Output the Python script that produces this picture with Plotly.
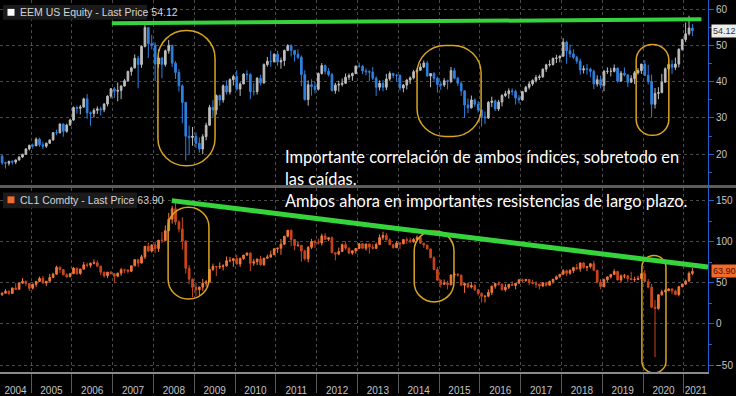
import plotly.graph_objects as go
import pandas as pd

# ---------------- DATA (monthly, Apr 2004 - Mar 2021) ----------------
months = pd.period_range("2004-04", "2021-03", freq="M")

eem_first_open = 19.48
eem_close = [
    17.60, 17.46, 17.96, 17.78, 18.36, 19.18, 19.93, 21.43, 22.42,
    22.30, 24.13, 22.56, 22.20, 23.00, 23.87, 25.93, 25.90, 28.31, 26.29, 28.02, 29.42,
    32.88, 32.68, 33.00, 35.28, 31.44, 31.26, 32.12, 32.50, 32.28, 33.84, 36.04, 38.06,
    37.40, 37.62, 38.83, 40.31, 42.87, 43.86, 46.50, 44.79, 49.82, 55.00, 50.58, 50.17,
    44.93, 46.60, 44.82, 48.60, 50.13, 45.17, 42.60, 38.90, 34.30, 24.94, 24.60, 24.97,
    23.00, 21.40, 24.81, 28.00, 32.90, 32.23, 36.20, 35.00, 38.90, 37.20, 40.60, 41.50,
    38.00, 39.40, 42.12, 42.00, 37.30, 37.30, 41.00, 39.70, 44.76, 45.70, 45.60, 47.64,
    45.50, 45.90, 48.70, 50.00, 48.70, 47.60, 46.80, 42.00, 35.10, 39.20, 38.70, 37.94,
    42.30, 44.50, 42.94, 42.00, 37.60, 39.10, 39.30, 39.60, 41.30, 41.70, 42.30, 44.35,
    44.30, 43.00, 42.80, 42.70, 41.00, 38.50, 39.60, 38.50, 40.80, 42.30, 41.80, 41.80,
    38.30, 39.10, 40.50, 41.10, 42.80, 43.20, 44.10, 45.20, 41.60, 42.30, 41.00, 39.30,
    39.10, 40.30, 40.10, 43.10, 41.00, 39.60, 37.50, 33.60, 32.80, 35.00, 33.80, 32.20,
    30.30, 30.00, 34.30, 34.70, 32.50, 34.40, 36.20, 36.70, 37.50, 37.30, 35.50, 35.00,
    37.30, 38.50, 39.40, 40.40, 41.20, 41.40, 43.50, 44.70, 44.80, 46.50, 46.60, 47.10,
    51.00, 48.60, 47.70, 46.80, 45.70, 43.30, 43.60, 43.50, 42.90, 39.40, 40.60, 39.06,
    42.90, 42.90, 42.90, 43.80, 40.20, 42.40, 41.90, 39.90, 40.90, 42.50, 43.10, 44.90,
    41.80, 40.10, 33.80, 36.80, 37.00, 39.90, 43.60, 44.80, 44.00, 44.90, 49.00, 51.70,
    53.30, 54.90, 54.12,
]
eem_high = [
    19.80, 17.90, 18.20, 18.30, 18.50, 19.40, 20.10, 21.60, 22.60,
    22.90, 24.60, 24.50, 23.40, 23.20, 24.10, 26.00, 26.80, 28.50, 28.50, 28.40, 29.80,
    33.20, 33.40, 33.60, 35.60, 36.60, 31.80, 32.70, 33.20, 33.10, 34.10, 36.30, 38.30,
    38.60, 39.80, 39.10, 40.80, 43.10, 44.20, 47.60, 47.20, 50.10, 55.83, 55.10, 53.00,
    50.90, 49.00, 46.80, 48.90, 51.60, 50.20, 45.70, 43.50, 39.30, 34.40, 27.90, 27.50,
    26.00, 24.60, 25.50, 28.70, 33.60, 35.00, 36.50, 36.50, 39.30, 40.40, 41.00, 42.00,
    43.20, 39.90, 42.40, 43.20, 42.40, 39.60, 41.30, 42.00, 45.10, 46.90, 48.60, 47.90,
    48.60, 46.70, 48.90, 50.40, 50.40, 48.70, 49.00, 47.30, 43.20, 40.40, 40.70, 40.00,
    42.60, 45.20, 44.80, 43.80, 42.50, 39.70, 40.30, 40.90, 42.30, 42.30, 42.60, 44.50,
    45.30, 44.70, 43.70, 43.20, 44.10, 41.50, 40.40, 40.50, 42.20, 42.90, 42.50, 42.20,
    42.00, 39.40, 40.70, 41.50, 43.30, 43.80, 45.10, 45.90, 45.80, 42.40, 42.70, 41.40,
    40.00, 41.00, 40.60, 44.10, 43.80, 41.40, 40.20, 37.60, 35.40, 36.20, 35.40, 34.70,
    32.20, 31.80, 34.70, 35.90, 35.10, 35.00, 36.60, 37.50, 38.20, 38.20, 37.80, 36.30,
    37.50, 38.90, 40.00, 40.70, 41.90, 42.00, 43.70, 45.00, 46.00, 46.70, 47.50, 47.30,
    52.08, 51.40, 50.30, 49.00, 47.20, 46.40, 44.50, 44.90, 43.90, 43.40, 41.80, 41.70,
    43.30, 44.00, 43.90, 44.80, 43.90, 43.00, 44.00, 42.20, 41.80, 43.00, 43.80, 45.00,
    46.00, 44.70, 42.00, 38.30, 38.50, 42.20, 44.00, 45.50, 46.00, 46.70, 49.30, 51.90,
    56.40, 58.30, 56.00,
]
eem_low = [
    17.00, 16.00, 16.80, 17.10, 17.20, 18.20, 18.90, 19.80, 21.00,
    21.50, 22.20, 22.00, 21.40, 21.70, 22.80, 23.80, 25.30, 25.70, 24.80, 25.90, 27.90,
    29.20, 31.20, 31.00, 32.90, 29.80, 27.80, 30.10, 31.10, 30.70, 31.60, 33.20, 35.40,
    35.50, 34.60, 35.20, 38.70, 40.10, 41.70, 43.70, 38.20, 43.90, 49.50, 46.60, 49.00,
    40.20, 43.90, 41.00, 44.20, 47.80, 44.10, 40.80, 37.30, 28.50, 18.22, 19.80, 22.30,
    21.70, 20.40, 19.94, 23.80, 27.80, 30.10, 30.90, 33.40, 34.20, 36.50, 36.50, 39.00,
    37.60, 36.10, 39.40, 40.40, 35.20, 36.20, 36.50, 39.00, 39.50, 44.20, 44.20, 45.30,
    44.40, 43.60, 44.40, 48.50, 47.00, 45.60, 46.30, 38.80, 34.80, 33.40, 36.20, 36.80,
    37.60, 42.00, 42.10, 41.50, 37.30, 36.70, 37.30, 38.70, 39.40, 40.50, 40.30, 42.10,
    43.90, 42.20, 41.80, 40.20, 40.50, 36.10, 37.60, 37.40, 37.70, 40.30, 41.00, 40.10,
    37.60, 37.10, 37.90, 39.40, 40.70, 42.40, 43.10, 43.80, 41.50, 38.50, 40.30, 37.00,
    37.80, 38.60, 37.90, 39.60, 40.70, 38.80, 36.10, 30.00, 31.30, 32.60, 33.10, 31.50,
    27.60, 28.30, 29.70, 33.00, 31.90, 31.90, 33.20, 35.80, 35.40, 36.30, 33.70, 34.00,
    34.80, 37.10, 37.90, 38.90, 39.80, 40.50, 41.10, 42.70, 44.20, 44.50, 45.20, 45.40,
    46.90, 45.00, 46.70, 46.30, 45.00, 42.00, 42.30, 42.00, 41.30, 38.00, 38.70, 38.20,
    37.40, 42.20, 41.50, 42.60, 39.80, 40.00, 41.50, 38.60, 39.70, 39.40, 42.00, 42.20,
    41.60, 39.30, 30.10, 32.60, 35.20, 37.50, 39.80, 42.60, 42.20, 43.30, 44.00, 48.60,
    51.00, 52.80, 52.70,
]

cl_first_open = 35.76
cl_close = [
    37.38, 39.88, 37.05, 43.80, 42.12, 49.64, 51.76, 49.13, 43.45,
    48.20, 51.75, 55.40, 49.72, 51.97, 56.50, 60.57, 68.94, 66.24, 59.76, 57.32, 61.04,
    67.92, 61.41, 66.63, 71.88, 71.29, 73.93, 74.40, 70.26, 62.91, 58.73, 62.99, 61.05,
    58.14, 61.79, 65.87, 65.71, 64.01, 70.68, 78.21, 74.04, 81.66, 94.53, 88.71, 95.98,
    91.75, 101.84, 101.58, 113.46, 127.35, 140.00, 124.08, 115.46, 100.64, 67.81, 54.43, 44.60,
    41.68, 44.76, 49.66, 51.12, 66.31, 69.89, 69.45, 69.96, 70.61, 77.00, 77.28, 79.36,
    72.89, 79.66, 83.76, 86.15, 73.97, 75.63, 78.95, 71.92, 79.97, 81.43, 84.11, 91.38,
    92.19, 96.97, 106.72, 113.93, 102.70, 95.42, 95.70, 88.81, 79.20, 93.19, 100.36, 98.83,
    98.48, 107.07, 103.02, 104.87, 86.53, 84.96, 88.06, 96.47, 92.19, 86.24, 88.91, 91.82,
    97.49, 92.05, 97.23, 93.46, 91.97, 96.56, 105.03, 107.65, 102.33, 96.38, 92.72, 98.42,
    97.49, 102.59, 101.58, 99.74, 102.71, 105.37, 98.17, 95.96, 91.16, 80.54, 66.15, 53.27,
    48.24, 49.76, 47.60, 59.63, 60.30, 59.47, 47.12, 49.20, 45.09, 46.59, 41.65, 37.04,
    33.62, 33.75, 38.34, 45.92, 49.10, 48.33, 41.60, 44.70, 48.24, 46.86, 49.44, 53.72,
    52.81, 54.01, 50.60, 49.33, 48.32, 46.04, 50.17, 47.23, 51.67, 54.38, 57.40, 60.42,
    64.73, 61.64, 64.94, 68.57, 67.04, 74.15, 68.76, 69.80, 73.25, 65.31, 50.93, 45.41,
    53.79, 57.22, 60.14, 63.91, 53.50, 58.47, 58.58, 55.10, 54.07, 54.18, 55.17, 61.06,
    51.56, 44.76, 20.48, 18.84, 35.49, 39.27, 40.27, 42.61, 40.22, 35.79, 45.34, 48.52,
    52.20, 61.50, 63.90,
]
cl_high = [
    38.40, 42.30, 40.60, 44.00, 49.40, 50.50, 55.70, 53.00, 49.50,
    49.20, 52.10, 57.60, 58.30, 52.10, 60.90, 62.30, 70.85, 69.80, 66.80, 61.50, 61.90,
    69.20, 68.00, 67.30, 75.35, 74.60, 74.50, 78.40, 77.20, 70.70, 63.40, 63.20, 64.40,
    61.80, 62.50, 68.10, 67.10, 66.50, 70.90, 78.80, 78.70, 84.10, 94.70, 99.30, 97.00,
    100.10, 102.10, 111.80, 119.90, 135.10, 143.70, 147.27, 126.00, 130.00, 102.00, 71.50, 55.40,
    50.50, 45.80, 54.70, 53.30, 66.90, 73.40, 70.70, 75.00, 72.60, 82.00, 81.50, 80.00,
    83.95, 80.70, 83.90, 87.10, 87.00, 79.00, 79.40, 83.00, 80.00, 84.40, 89.00, 92.10,
    92.60, 103.40, 106.90, 114.10, 114.80, 103.40, 100.60, 96.00, 90.50, 94.70, 103.40, 102.40,
    103.70, 109.80, 110.50, 105.20, 106.40, 86.90, 92.90, 97.80, 100.40, 93.00, 89.50, 92.10,
    98.20, 98.20, 97.40, 97.80, 97.00, 99.00, 108.90, 112.20, 110.70, 104.00, 96.90, 100.80,
    99.40, 103.40, 105.20, 104.90, 104.50, 107.70, 105.40, 98.70, 96.20, 91.90, 82.20, 69.40,
    54.00, 54.20, 52.50, 59.90, 62.60, 61.80, 59.70, 49.30, 49.40, 50.90, 48.40, 42.50,
    38.40, 34.70, 41.90, 46.80, 49.90, 51.70, 49.00, 48.80, 48.30, 51.90, 49.90, 54.50,
    55.20, 54.90, 54.30, 53.80, 52.00, 48.90, 50.40, 50.20, 52.90, 54.80, 59.00, 60.50,
    66.66, 66.30, 66.60, 69.50, 72.90, 74.50, 75.30, 70.40, 73.80, 76.90, 65.50, 54.50,
    55.30, 57.80, 60.70, 66.60, 64.00, 60.30, 60.90, 58.80, 63.40, 57.50, 58.70, 61.90,
    65.65, 54.70, 48.70, 29.10, 35.90, 41.60, 42.50, 43.80, 43.40, 41.80, 46.30, 49.30,
    53.90, 63.80, 67.98,
]
cl_low = [
    33.90, 37.30, 35.40, 36.90, 41.40, 42.10, 49.00, 45.90, 40.20,
    42.10, 45.00, 51.30, 49.30, 46.20, 51.80, 55.70, 60.20, 62.10, 59.20, 56.20, 57.30,
    60.80, 59.50, 59.80, 66.60, 68.60, 68.40, 72.50, 69.50, 59.50, 56.50, 55.70, 60.50,
    49.90, 56.80, 58.40, 61.90, 61.40, 64.00, 70.30, 69.30, 73.70, 79.00, 87.40, 86.80,
    86.10, 87.70, 98.70, 100.60, 112.80, 122.00, 120.40, 111.30, 90.50, 61.30, 48.20, 32.40,
    33.50, 33.90, 40.20, 45.40, 50.40, 64.70, 58.30, 66.70, 65.10, 69.70, 75.00, 69.50,
    72.40, 69.50, 78.00, 82.50, 64.20, 70.80, 71.50, 70.80, 70.80, 79.80, 80.10, 84.00,
    86.50, 84.10, 96.00, 105.30, 94.60, 89.60, 94.00, 75.70, 77.10, 74.95, 91.20, 92.50,
    96.80, 95.40, 102.10, 100.70, 86.20, 77.30, 83.60, 87.80, 90.00, 85.00, 84.10, 85.50,
    91.60, 91.70, 89.30, 85.60, 90.60, 91.10, 95.90, 102.20, 101.70, 95.90, 91.80, 92.70,
    91.20, 97.00, 97.40, 98.90, 98.80, 101.80, 97.20, 92.50, 90.50, 79.80, 65.70, 52.70,
    44.20, 47.40, 42.00, 47.10, 56.50, 57.50, 46.70, 37.75, 43.20, 43.20, 40.00, 34.50,
    26.20, 26.05, 32.50, 35.20, 43.00, 46.70, 40.60, 39.20, 42.50, 46.40, 42.20, 49.30,
    50.70, 51.20, 47.00, 48.20, 43.80, 42.05, 45.40, 45.60, 46.50, 49.10, 53.90, 56.10,
    59.80, 58.10, 59.90, 62.00, 65.80, 63.60, 67.00, 64.40, 67.50, 64.80, 49.40, 42.36,
    44.40, 51.20, 55.40, 60.00, 53.00, 50.60, 55.40, 50.50, 53.00, 50.90, 54.00, 55.00,
    51.30, 43.30, 19.30, -40.32, 17.30, 34.40, 38.70, 40.20, 36.10, 34.90, 33.60, 44.50,
    47.20, 51.60, 59.30,
]

year_ticks = list(range(2005, 2022))
year_label_pos = [2004.62] + [y + 0.5 for y in range(2005, 2021)] + [2021.29]
year_labels = [str(y) for y in range(2004, 2022)]

# trend lines (data coordinates)
top_trend = dict(x0=2006.98, y0=56.2, x1=2021.43, y1=57.3)
bot_trend = dict(x0=2008.45, y0=150.0, x1=2021.59, y1=69.2)
# highlighted zones (x0, x1, y0, y1, corner radius px)
top_zones = [(2008.11, 2009.51, 16.75, 54.2, 28), (2014.46, 2016.03, 24.9, 50.08, 28),
             (2019.83, 2020.63, 25.2, 50.36, 16)]
bot_zones = [(2008.36, 2009.36, 30.4, 141.97, 20), (2014.39, 2015.365, 26.8, 113.2, 20),
             (2019.97, 2020.56, -59.6, 83.2, 12)]

# ---------------- LAYOUT CONSTANTS ----------------
W, H = 736, 396
ML, MR, MT, MB = 0, 28, 0, 19
PW, PH = W - ML - MR, H - MT - MB
X_RANGE = [2004.24, 2021.59]
TOP_DOM = [1 - 188 / PH, 1.0]
BOT_DOM = [0.0, 1 - 191 / PH]
Y1_RANGE = [11.3, 62.65]
Y2_RANGE = [-58.4, 164.76]

x = [p.year + (p.month - 0.5) / 12 for p in months]
assert len(x) == len(eem_close) == len(eem_high) == len(eem_low)
assert len(x) == len(cl_close) == len(cl_high) == len(cl_low)
eem_open = [eem_first_open] + eem_close[:-1]
cl_open = [cl_first_open] + cl_close[:-1]

fig = go.Figure()
fig.add_trace(go.Candlestick(
    x=x, open=eem_open, high=eem_high, low=eem_low, close=eem_close,
    xaxis="x", yaxis="y",
    increasing=dict(line=dict(color="#bdbdbd", width=1), fillcolor="#bdbdbd"),
    decreasing=dict(line=dict(color="#2f80e0", width=1), fillcolor="#2f80e0"),
    showlegend=False, hoverinfo="skip"))
fig.add_trace(go.Candlestick(
    x=x, open=cl_open, high=cl_high, low=cl_low, close=cl_close,
    xaxis="x2", yaxis="y2",
    increasing=dict(line=dict(color="#f2773a", width=1), fillcolor="#f2773a"),
    decreasing=dict(line=dict(color="#c9461c", width=1), fillcolor="#c9461c"),
    showlegend=False, hoverinfo="skip"))

px_per_x = PW / (X_RANGE[1] - X_RANGE[0])
px_per_y1 = (TOP_DOM[1] - TOP_DOM[0]) * PH / (Y1_RANGE[1] - Y1_RANGE[0])
px_per_y2 = (BOT_DOM[1] - BOT_DOM[0]) * PH / (Y2_RANGE[1] - Y2_RANGE[0])


def rounded(x0, x1, y0, y1, rpx, ppy):
    rx = rpx / px_per_x
    ry = rpx / ppy
    k = 0.5523
    p = [
        f"M{x0+rx},{y1}", f"L{x1-rx},{y1}",
        f"C{x1-rx+k*rx},{y1} {x1},{y1-ry+k*ry} {x1},{y1-ry}",
        f"L{x1},{y0+ry}",
        f"C{x1},{y0+ry-k*ry} {x1-rx+k*rx},{y0} {x1-rx},{y0}",
        f"L{x0+rx},{y0}",
        f"C{x0+rx-k*rx},{y0} {x0},{y0+ry-k*ry} {x0},{y0+ry}",
        f"L{x0},{y1-ry}",
        f"C{x0},{y1-ry+k*ry} {x0+rx-k*rx},{y1} {x0+rx},{y1}", "Z"]
    return " ".join(p)


GOLD = "#d9a521"
GREEN = "#35d43c"
shapes = []
for (a, b, c, d, r) in top_zones:
    shapes.append(dict(type="path", xref="x", yref="y", path=rounded(a, b, c, d, r, px_per_y1),
                       line=dict(color=GOLD, width=1.5)))
for (a, b, c, d, r) in bot_zones:
    shapes.append(dict(type="path", xref="x2", yref="y2", path=rounded(a, b, c, d, r, px_per_y2),
                       line=dict(color=GOLD, width=1.5)))
shapes.append(dict(type="line", xref="x", yref="y", **top_trend, line=dict(color=GREEN, width=4)))
shapes.append(dict(type="line", xref="x2", yref="y2", **bot_trend, line=dict(color=GREEN, width=5)))


def px2x(p):
    return p / PW


def px2y(p):
    return 1 - p / PH


# panel separator
shapes.append(dict(type="line", xref="paper", yref="paper", x0=0, x1=W / PW, y0=px2y(189), y1=px2y(189),
                   line=dict(color="#5c5c5c", width=3)))
# legend boxes
for (top, bot, right, col) in [(5, 20, 147, "#ffffff"), (195, 211, 137, "#f26a2a")]:
    shapes.append(dict(type="rect", xref="paper", yref="paper", x0=px2x(3), x1=px2x(right),
                       y0=px2y(bot), y1=px2y(top), fillcolor="#1b1b1b", line=dict(width=0)))
    shapes.append(dict(type="rect", xref="paper", yref="paper", x0=px2x(7.5), x1=px2x(14.5),
                       y0=px2y(top + 11), y1=px2y(top + 4), fillcolor=col, line=dict(width=0)))

LEG_FONT = dict(family="Liberation Sans", size=10.5, color="#d4d4d4")
PRICE_FONT = dict(family="Liberation Sans", size=9)
annotations = [
    dict(xref="paper", yref="paper", x=px2x(18), y=px2y(12.5), xanchor="left", yanchor="middle",
         text="EEM US Equity - Last Price 54.12", showarrow=False, font=LEG_FONT),
    dict(xref="paper", yref="paper", x=px2x(18), y=px2y(203), xanchor="left", yanchor="middle",
         text="CL1 Comdty - Last Price 63.90", showarrow=False, font=LEG_FONT),
    dict(xref="paper", yref="y", x=px2x(711), y=eem_close[-1], xanchor="left", yanchor="middle",
         text=f"{eem_close[-1]:.2f}", showarrow=False, bgcolor="#ececec", borderpad=1,
         font=dict(PRICE_FONT, color="#333333")),
    dict(xref="paper", yref="y2", x=px2x(711), y=cl_close[-1], xanchor="left", yanchor="middle",
         text=f"{cl_close[-1]:.2f}", showarrow=False, bgcolor="#f26a2a", borderpad=1,
         font=dict(PRICE_FONT, color="#4a1000")),
]
TXT = dict(family="Lato", size=16.4, color="#ffffff")
for txt, ypx in [("Importante correlación de ambos índices, sobretodo en", 159),
                 ("las caídas.", 181),
                 ("Ambos ahora en importantes resistencias de largo plazo.", 203)]:
    annotations.append(dict(xref="paper", yref="paper", x=px2x(283), y=px2y(ypx), xanchor="left",
                            yanchor="middle", text=txt, showarrow=False, font=TXT))

AX_BLUE = "#1f5fd0"
GRID = "#4a4a4a"
TICKFONT = dict(family="Liberation Sans", size=10, color="#c4c4c4")

fig.update_layout(
    width=W, height=H, margin=dict(l=ML, r=MR, t=MT, b=MB),
    paper_bgcolor="#000000", plot_bgcolor="#000000",
    shapes=shapes, annotations=annotations, showlegend=False,
    xaxis=dict(domain=[0, 1], anchor="y", range=X_RANGE, rangeslider=dict(visible=False),
               tickvals=year_ticks, showticklabels=False, ticks="", showgrid=True,
               gridcolor=GRID, griddash="dot", gridwidth=1, zeroline=False, showline=False),
    yaxis=dict(domain=TOP_DOM, anchor="x", side="right", range=Y1_RANGE,
               tickvals=[20, 30, 40, 50, 60], ticks="outside", ticklen=5, tickcolor=AX_BLUE,
               tickfont=TICKFONT, showgrid=True, gridcolor=GRID, griddash="dot", zeroline=False,
               showline=True, linecolor=AX_BLUE, linewidth=1,
               minor=dict(dtick=5, ticks="outside", ticklen=3, tickcolor=AX_BLUE, showgrid=False)),
    xaxis2=dict(domain=[0, 1], anchor="y2", range=X_RANGE, matches="x", rangeslider=dict(visible=False),
                tickvals=year_label_pos, ticktext=year_labels, ticks="outside", ticklen=8,
                tickcolor="rgba(0,0,0,0)", tickfont=TICKFONT, showgrid=False, zeroline=False,
                showline=True, linecolor="#8a8a8a", linewidth=2,
                minor=dict(tickvals=year_ticks, ticks="outside", ticklen=19, tickcolor="#5a5a5a",
                           tickwidth=1, showgrid=True, gridcolor=GRID, griddash="dot")),
    yaxis2=dict(domain=BOT_DOM, anchor="x2", side="right", range=Y2_RANGE,
                tickvals=[-50, 0, 50, 100, 150], ticks="outside", ticklen=5, tickcolor=AX_BLUE,
                tickfont=TICKFONT, showgrid=True, gridcolor=GRID, griddash="dot", zeroline=False,
                showline=True, linecolor=AX_BLUE, linewidth=1,
                minor=dict(dtick=25, ticks="outside", ticklen=3, tickcolor=AX_BLUE, showgrid=False)),
)

fig.write_html("out.html", config={"displayModeBar": False},
               post_script="document.body.style.margin='0';document.body.style.overflow='hidden';")
